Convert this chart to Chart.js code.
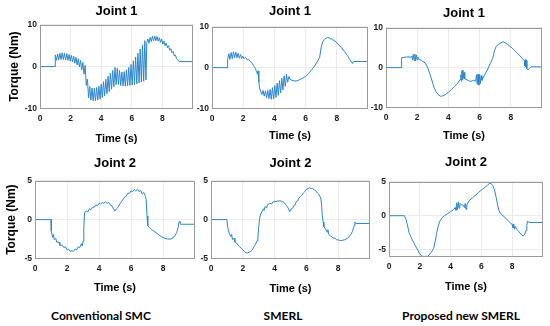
<!DOCTYPE html>
<html>
<head>
<meta charset="utf-8">
<script src="https://cdn.jsdelivr.net/npm/chart.js@4.4.1/dist/chart.umd.min.js"></script>
<style>
  body { margin: 0; background: #fff; width: 550px; height: 326px; position: relative; overflow: hidden; }
  canvas { position: absolute; }
  .caption { position: absolute; transform: translate(-50%, -50%); font: bold 12px Lato, "Open Sans", sans-serif; color: #000; white-space: nowrap; }
</style>
</head>
<body>
<div class="caption" style="left:101px; top:315px">Conventional SMC</div>
<div class="caption" style="left:283px; top:315px">SMERL</div>
<div class="caption" style="left:461px; top:315px">Proposed new SMERL</div>
<script>
// Tick labels
const timeTicks = [0, 2, 4, 6, 8];
const joint1Ticks = [-10, 0, 10];
const joint2Ticks = [-5, 0, 5];

// Joint 1 torque, [time s, torque Nm]
const smcJoint1 = [
  [0, 0], [1.0, 0], [1.0, 2.8], [1.075, 1.5], [1.15, 3.0], [1.225, 1.6], [1.3, 3.2], [1.375, 1.7],
  [1.45, 3.3], [1.525, 1.7], [1.6, 3.2], [1.675, 1.6], [1.75, 3.1], [1.825, 1.5], [1.9, 2.9], [1.975, 1.3],
  [2.05, 2.7], [2.125, 1.1], [2.2, 2.5], [2.275, 0.8], [2.35, 2.2], [2.425, 0.4], [2.5, 1.9], [2.575, -0.1],
  [2.65, 1.5], [2.725, -0.8], [2.8, 1.0], [2.875, -1.8], [2.95, 0.3], [3.025, -4.5], [3.1, -3.0], [3.175, -7.5],
  [3.25, -4.8], [3.325, -8.0], [3.4, -5.1], [3.475, -8.2], [3.55, -5.2], [3.625, -8.2], [3.7, -5.0], [3.775, -8.0],
  [3.85, -4.7], [3.925, -7.8], [4.0, -4.2], [4.075, -7.4], [4.15, -3.6], [4.225, -7.0], [4.3, -3.0], [4.375, -6.5],
  [4.45, -2.3], [4.525, -6.0], [4.6, -1.6], [4.675, -5.4], [4.75, -0.9], [4.825, -4.8], [4.9, -0.2], [4.975, -4.3],
  [5.05, -0.4], [5.125, -4.3], [5.2, -0.9], [5.275, -4.5], [5.35, -1.3], [5.425, -4.6], [5.5, -1.2], [5.575, -4.7],
  [5.65, -0.8], [5.725, -4.6], [5.8, -0.2], [5.875, -4.5], [5.95, 0.5], [6.025, -4.4], [6.1, 1.4], [6.175, -4.3],
  [6.25, 2.3], [6.325, -4.1], [6.4, 3.2], [6.475, -3.9], [6.55, 4.2], [6.625, -3.7], [6.7, 5.2], [6.775, -3.5],
  [6.85, 6.2], [6.925, -3.2], [6.98, 5.8], [7.05, 6.6], [7.125, 5.6], [7.2, 7.0], [7.275, 6.0], [7.35, 7.3],
  [7.425, 6.2], [7.5, 7.3], [7.575, 6.2], [7.65, 7.2], [7.725, 6.1], [7.8, 6.9], [7.875, 5.8], [7.95, 6.6],
  [8.025, 5.4], [8.1, 6.1], [8.175, 5.0], [8.25, 5.6], [8.325, 4.5], [8.4, 5.0], [8.475, 3.9], [8.55, 4.3],
  [8.625, 3.3], [8.7, 3.6], [8.775, 2.6], [8.85, 2.8], [8.925, 1.9], [9.0, 1.6], [9.1, 1.2], [10, 1.2]
];
const smerlJoint1 = [
  [0, 0], [1.0, 0], [1.0, 2.0], [1.075, 3.4], [1.15, 2.0], [1.225, 3.7], [1.3, 2.2], [1.375, 3.9],
  [1.45, 2.4], [1.525, 3.8], [1.6, 2.4], [1.675, 3.5], [1.75, 2.3], [1.825, 3.2], [1.9, 2.2], [1.975, 2.8],
  [2.05, 2.2], [2.15, 2.5], [2.25, 1.9], [2.35, 2.0], [2.45, 1.5], [2.55, 1.2], [2.65, 0.6], [2.75, 0.0],
  [2.85, -0.9], [2.92, -1.6], [2.95, -0.8], [3.0, -3.5], [3.05, -5.0], [3.12, -5.8], [3.2, -6.6], [3.275, -5.6],
  [3.35, -7.0], [3.425, -5.7], [3.5, -7.4], [3.575, -5.6], [3.65, -7.6], [3.725, -5.3], [3.8, -7.8], [3.875, -4.9],
  [3.95, -7.7], [4.025, -4.4], [4.1, -7.3], [4.175, -3.8], [4.25, -6.8], [4.325, -3.2], [4.4, -6.2], [4.475, -2.6],
  [4.55, -5.5], [4.625, -2.0], [4.7, -4.6], [4.775, -1.6], [4.85, -3.6], [4.925, -2.2], [5.0, -2.9], [5.2, -3.2],
  [5.4, -3.3], [5.6, -3.0], [5.8, -2.6], [6.0, -2.2], [6.2, -1.4], [6.4, -0.5], [6.6, 0.5], [6.8, 1.8],
  [6.9, 2.5], [7.0, 5.0], [7.1, 6.3], [7.2, 6.9], [7.3, 7.2], [7.4, 7.4], [7.5, 7.3], [7.6, 7.0],
  [7.7, 7.1], [7.8, 6.6], [7.9, 6.5], [8.0, 6.0], [8.1, 5.8], [8.2, 5.2], [8.3, 5.0], [8.4, 4.3],
  [8.5, 4.0], [8.6, 3.3], [8.7, 2.9], [8.8, 2.2], [8.9, 1.6], [9.0, 1.0], [9.05, 1.5], [10, 1.5]
];
const proposedJoint1 = [
  [0, 0], [1.0, 0], [1.0, 2.5], [1.2, 2.6], [1.4, 2.7], [1.6, 2.6], [1.65, 2.9], [1.7, 2.0],
  [1.75, 3.3], [1.8, 1.8], [1.85, 3.4], [1.9, 1.7], [1.95, 3.2], [2.0, 2.0], [2.05, 2.6], [2.1, 2.2],
  [2.3, 1.7], [2.5, 1.2], [2.65, 0.2], [2.8, -1.4], [2.9, -2.6], [3.0, -4.0], [3.1, -5.2], [3.2, -6.0],
  [3.35, -6.8], [3.5, -7.2], [3.65, -7.1], [3.8, -6.8], [4.0, -6.2], [4.2, -5.5], [4.4, -4.7], [4.6, -3.9],
  [4.75, -3.0], [4.8, -1.8], [4.83, -3.4], [4.86, -0.8], [4.9, -3.0], [4.93, -0.6], [4.96, -2.6], [5.0, -1.2],
  [5.05, -2.8], [5.2, -3.1], [5.4, -3.5], [5.6, -3.2], [5.75, -3.4], [5.8, -1.8], [5.85, -4.2], [5.9, -1.6],
  [5.95, -4.4], [6.0, -1.8], [6.05, -4.0], [6.1, -2.0], [6.15, -3.2], [6.3, -2.0], [6.5, -0.6], [6.7, 1.2],
  [6.85, 2.4], [6.95, 4.2], [7.05, 5.2], [7.2, 5.8], [7.35, 6.2], [7.5, 6.5], [7.65, 6.2], [7.8, 5.8],
  [8.0, 5.2], [8.2, 4.5], [8.4, 3.7], [8.6, 2.9], [8.8, 2.0], [8.88, 1.6], [8.9, 0.4], [8.93, 2.0],
  [8.96, 0.2], [9.0, 1.8], [9.03, -0.2], [9.1, -0.6], [9.2, -0.2], [9.3, 0.2], [10, 0.2]
];

// Joint 2 torque
const smcJoint2 = [
  [0, 0], [1.0, 0], [1.02, -1.5], [1.1, -2.3], [1.15, -1.9], [1.2, -2.6], [1.3, -2.4], [1.35, -2.9],
  [1.5, -2.9], [1.55, -3.3], [1.7, -3.3], [1.8, -3.6], [1.9, -3.5], [2.0, -3.9], [2.1, -3.8], [2.2, -4.1],
  [2.3, -4.0], [2.4, -4.1], [2.5, -3.8], [2.6, -3.9], [2.7, -3.5], [2.8, -3.6], [2.9, -3.1], [2.95, -3.4],
  [3.0, -2.8], [3.05, -1.0], [3.1, 0.9], [3.2, 1.1], [3.3, 1.0], [3.4, 1.4], [3.5, 1.3], [3.6, 1.6],
  [3.7, 1.6], [3.8, 1.9], [3.9, 1.8], [4.0, 2.1], [4.1, 2.0], [4.2, 2.2], [4.3, 2.1], [4.4, 2.3],
  [4.5, 2.1], [4.6, 2.2], [4.7, 1.9], [4.8, 1.8], [4.9, 1.4], [5.0, 1.1], [5.1, 1.4], [5.2, 1.6],
  [5.3, 2.0], [5.4, 2.3], [5.5, 2.6], [5.6, 2.9], [5.7, 3.0], [5.8, 3.4], [5.9, 3.4], [6.0, 3.7],
  [6.1, 3.6], [6.2, 3.9], [6.3, 3.7], [6.4, 3.9], [6.5, 3.6], [6.6, 3.8], [6.7, 3.3], [6.8, 3.5],
  [6.9, 3.0], [6.95, 2.6], [7.0, 0.5], [7.05, -0.8], [7.15, -1.0], [7.3, -1.3], [7.5, -1.6], [7.7, -1.9],
  [7.9, -2.2], [8.1, -2.4], [8.3, -2.5], [8.5, -2.5], [8.7, -2.2], [8.85, -1.7], [8.95, -1.0], [9.0, -0.3],
  [9.05, -0.2], [9.1, -0.6], [10, -0.6]
];
const smerlJoint2 = [
  [0, 0], [1.0, 0], [1.05, -1.0], [1.15, -1.8], [1.25, -2.2], [1.3, -1.9], [1.35, -2.6], [1.45, -2.4],
  [1.5, -2.9], [1.6, -3.0], [1.7, -3.3], [1.8, -3.5], [1.9, -3.7], [2.0, -3.9], [2.1, -4.1], [2.2, -4.3],
  [2.3, -4.3], [2.4, -4.2], [2.5, -4.1], [2.6, -3.9], [2.7, -3.5], [2.8, -3.2], [2.9, -2.7], [2.95, -2.2],
  [3.0, -1.0], [3.05, 0.0], [3.1, 0.6], [3.2, 1.0], [3.3, 1.4], [3.35, 1.2], [3.4, 1.7], [3.5, 1.5],
  [3.55, 1.9], [3.7, 2.1], [3.8, 2.0], [3.9, 2.3], [4.0, 2.3], [4.2, 2.4], [4.4, 2.4], [4.6, 2.2],
  [4.75, 1.8], [4.85, 1.5], [4.95, 1.0], [5.05, 1.4], [5.15, 1.5], [5.2, 1.8], [5.3, 1.9], [5.35, 2.3],
  [5.45, 2.4], [5.5, 2.7], [5.6, 2.9], [5.7, 3.1], [5.8, 3.4], [5.9, 3.6], [6.0, 3.9], [6.1, 4.0],
  [6.2, 4.1], [6.3, 4.0], [6.4, 4.0], [6.5, 3.8], [6.6, 3.7], [6.7, 3.4], [6.8, 3.2], [6.9, 2.8],
  [6.95, 2.0], [7.0, 0.5], [7.05, -0.3], [7.1, -0.9], [7.2, -1.2], [7.3, -1.6], [7.35, -1.3], [7.4, -1.9],
  [7.5, -2.1], [7.6, -2.2], [7.7, -2.4], [7.8, -2.4], [7.9, -2.6], [8.0, -2.6], [8.1, -2.7], [8.2, -2.7],
  [8.4, -2.6], [8.6, -2.4], [8.8, -1.9], [8.9, -1.5], [9.0, -0.8], [9.05, -0.3], [9.1, -0.5], [10, -0.5]
];
const proposedJoint2 = [
  [0, 0], [1.0, 0], [1.1, -0.5], [1.2, -1.4], [1.3, -2.5], [1.4, -3.0], [1.5, -3.5], [1.6, -3.9],
  [1.7, -4.4], [1.8, -4.8], [1.9, -5.2], [2.0, -5.6], [2.1, -5.9], [2.2, -6.0], [2.3, -6.0], [2.4, -6.0],
  [2.5, -6.0], [2.6, -5.8], [2.7, -5.5], [2.8, -5.2], [2.9, -4.8], [3.0, -3.8], [3.1, -2.5], [3.2, -1.5],
  [3.3, -0.8], [3.45, -0.3], [3.6, 0.0], [3.8, 0.3], [4.0, 0.6], [4.2, 0.9], [4.3, 1.2], [4.35, 0.8],
  [4.4, 1.9], [4.45, 0.9], [4.5, 2.0], [4.55, 1.1], [4.6, 1.8], [4.7, 1.6], [4.8, 1.6], [4.9, 1.2],
  [4.95, 1.8], [5.0, 0.9], [5.05, 1.6], [5.2, 2.2], [5.4, 2.6], [5.6, 3.0], [5.8, 3.4], [6.0, 3.8],
  [6.2, 4.1], [6.4, 4.5], [6.55, 4.8], [6.65, 4.7], [6.75, 4.4], [6.85, 3.8], [6.95, 2.8], [7.05, 1.6],
  [7.15, 0.7], [7.25, 0.3], [7.4, 0.0], [7.6, -0.4], [7.8, -0.9], [8.0, -1.3], [8.05, -1.8], [8.1, -1.2],
  [8.15, -2.0], [8.2, -1.6], [8.3, -2.0], [8.45, -2.4], [8.6, -2.8], [8.7, -3.0], [8.8, -2.8], [8.9, -2.2],
  [8.95, -1.4], [9.0, -0.8], [9.1, -1.0], [10, -1.0]
];

// Panel placement: plot box edges (L, R, T, B) and text centres, in page pixels
const panels = [
  { data: smcJoint1, title: 'Joint 1', yTitle: true, yMin: -10, yMax: 10, yTicks: joint1Ticks, L: 40, R: 193, T: 25, B: 109, titleY: 12, xTitleY: 140, yTitleX: 15 },
  { data: smerlJoint1, title: 'Joint 1', yTitle: false, yMin: -10, yMax: 10, yTicks: joint1Ticks, L: 212, R: 368, T: 27, B: 109, titleY: 12, xTitleY: 137 },
  { data: proposedJoint1, title: 'Joint 1', yTitle: false, yMin: -10, yMax: 10, yTicks: joint1Ticks, L: 386, R: 542, T: 28, B: 108, titleY: 14, xTitleY: 137 },
  { data: smcJoint2, title: 'Joint 2', yTitle: true, yMin: -5, yMax: 5, yTicks: joint2Ticks, L: 35, R: 195, T: 181, B: 259, titleY: 164, xTitleY: 289, yTitleX: 12 },
  { data: smerlJoint2, title: 'Joint 2', yTitle: false, yMin: -5, yMax: 5, yTicks: joint2Ticks, L: 211, R: 370, T: 181, B: 259, titleY: 164, xTitleY: 290 },
  { data: proposedJoint2, title: 'Joint 2', yTitle: false, yMin: -6, yMax: 5, yTicks: joint2Ticks, L: 389, R: 543, T: 182, B: 257, titleY: 163, xTitleY: 288 }
];

Chart.defaults.font.family = '"Liberation Sans", Arial, sans-serif';
Chart.defaults.color = '#1a1a1a';

// MATLAB style box round the plot area
const boxPlugin = {
  id: 'box',
  afterDraw(chart) {
    const a = chart.chartArea;
    const ctx = chart.ctx;
    ctx.save();
    ctx.strokeStyle = '#9a9a9a';
    ctx.lineWidth = 1;
    ctx.strokeRect(Math.round(a.left) + 0.5, Math.round(a.top) + 0.5, Math.round(a.right - a.left) - 1, Math.round(a.bottom - a.top) - 1);
    ctx.restore();
  }
};

function buildPanel(p) {
  const titleSize = 13, titleLH = titleSize * 1.2;
  const xTitleSize = 11, xTitleLH = xTitleSize * 1.2;
  const yTitleSize = 12, yTitleLH = yTitleSize * 1.2;
  const padRight = 2;

  const left = p.yTitle ? 0 : p.L - 26;
  const top = p.titleY - titleLH / 2 - 2;
  const bottom = p.xTitleY + xTitleLH / 2 + 2;
  const width = p.R + padRight - left;
  const height = bottom - top;

  const canvas = document.createElement('canvas');
  canvas.width = Math.round(width);
  canvas.height = Math.round(height);
  canvas.style.left = left + 'px';
  canvas.style.top = top + 'px';
  document.body.appendChild(canvas);

  new Chart(canvas, {
    type: 'line',
    data: {
      datasets: [{
        data: p.data.map(d => ({ x: d[0], y: d[1] })),
        borderColor: '#2b86cc',
        borderWidth: 1,
        borderJoinStyle: 'round',
        pointRadius: 0,
        tension: 0
      }]
    },
    options: {
      responsive: false,
      animation: false,
      layout: { padding: { left: 0, right: padRight, top: 0, bottom: 0 } },
      plugins: {
        legend: { display: false },
        tooltip: { enabled: false },
        title: {
          display: true,
          text: p.title,
          fullSize: false,
          color: '#000',
          font: { size: titleSize, weight: 'bold' },
          padding: { top: 2, bottom: p.T - (p.titleY + titleLH / 2) }
        }
      },
      scales: {
        x: {
          type: 'linear',
          min: 0,
          max: 10,
          afterBuildTicks: s => { s.ticks = timeTicks.map(v => ({ value: v })); },
          afterFit: s => { s.height = bottom - p.B; },
          grid: { color: '#ebebeb', drawTicks: false },
          border: { display: false },
          ticks: { padding: 5, maxRotation: 0, font: { size: 8.5, weight: 'bold' } },
          title: { display: true, text: 'Time (s)', color: '#000', font: { size: xTitleSize, weight: 'bold' }, padding: { top: 0, bottom: 2 } }
        },
        y: {
          min: p.yMin,
          max: p.yMax,
          afterBuildTicks: s => { s.ticks = p.yTicks.map(v => ({ value: v })); },
          afterFit: s => { s.width = p.L - left; },
          grid: { color: '#ebebeb', drawTicks: false },
          border: { display: false },
          ticks: { padding: 3, font: { size: 8.5, weight: 'bold' } },
          title: {
            display: p.yTitle,
            text: 'Torque (Nm)',
            color: '#000',
            font: { size: yTitleSize, weight: 'bold' },
            padding: { top: p.yTitle ? p.yTitleX - yTitleLH / 2 : 0, bottom: 0 }
          }
        }
      }
    },
    plugins: [boxPlugin]
  });
}

panels.forEach(buildPanel);
</script>
</body>
</html>
